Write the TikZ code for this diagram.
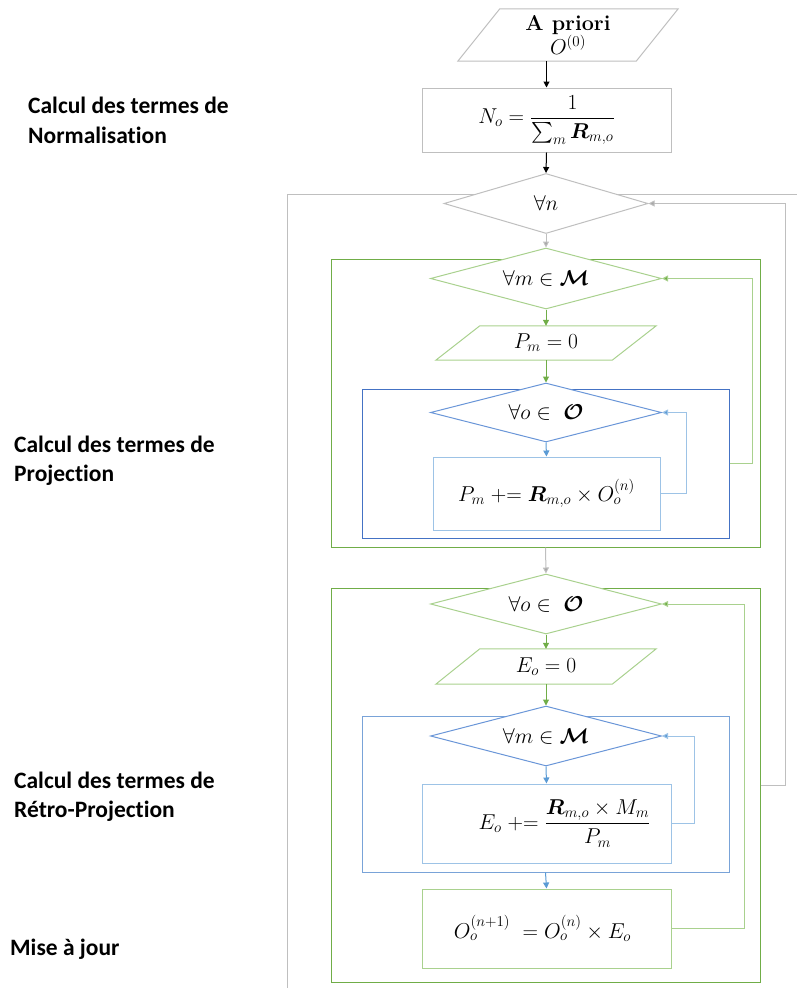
\RequirePackage{fix-cm}
\documentclass[tikz,border=0pt]{standalone}
\usepackage{fontspec}
\usepackage{amsmath,bm}
\newfontfamily\labelfont[Ligatures=NoCommon]{Carlito}
\usetikzlibrary{shapes.geometric,arrows.meta,calc}
\definecolor{gline}{HTML}{BFBFBF}
\definecolor{gtip}{HTML}{A5A5A5}
\definecolor{grn}{HTML}{70AD47}
\definecolor{grnl}{HTML}{A9D18E}
\definecolor{blu}{HTML}{4472C4}
\definecolor{blum}{HTML}{6A96D8}
\definecolor{blul}{HTML}{9DC3E6}
\definecolor{blutip}{HTML}{5B9BD5}
\begin{document}
\begin{tikzpicture}[x=1pt,y=-1pt,
  lbl/.style={font=\labelfont\bfseries\fontsize{23.5}{29.5}\selectfont, align=left, inner sep=0pt, anchor=north west},
  mtxt/.style={font=\fontsize{21.5}{26}\selectfont, inner sep=0pt},
  rbox/.style={mtxt, draw, line width=1pt, fill=white, rectangle},
  dbox/.style={mtxt, draw, line width=1pt, fill=white, diamond, aspect=4},
  pbox/.style={mtxt, rectangle, minimum width=220pt},
  cont/.style={draw, line width=1pt, rectangle, inner sep=0pt},
  tip/.style={-{Triangle[length=6pt,width=6pt]}},
  ln/.style={line width=1pt}
]
\useasboundingbox (0,0) rectangle (797,988);

% outer gray frame
\coordinate (gfa) at (287,988);
\coordinate (gfb) at (287,194);
\coordinate (gfc) at (797,194);
\draw[gline, ln] (gfa) -- (gfb) -- (gfc);

% labels
\node[lbl] (l1) at (28,97) {Calcul des termes de\\Normalisation};
\node[lbl] (l2) at (14,435.5) {Calcul des termes de\\Projection};
\node[lbl] (l3) at (14,771.5) {Calcul des termes de\\Rétro-Projection};
\node[lbl] (l4) at (10,938.5) {Mise à jour};

% containers
\node[cont, draw=grn, minimum width=429pt, minimum height=288pt] (G1) at (545.5,403) {};
\node[cont, draw=blu, minimum width=367pt, minimum height=149pt] (B1) at (545.5,463.5) {};
\node[cont, draw=grn, minimum width=429pt, minimum height=394pt] (G2) at (545.5,785) {};
\node[cont, draw=blul!60!blu, minimum width=367pt, minimum height=156pt] (B2) at (545.5,794) {};

% A priori
\node[pbox, minimum height=52pt, align=center] (ap) at (568,35) {\textbf{A priori}\\[-2pt]$O^{(0)}$};
\draw[gline, ln] ($(ap.north west)+(42,0)$) -- (ap.north east) -- ($(ap.south east)+(-42,0)$) -- (ap.south west) -- cycle;

% N box
\node[rbox, draw=gline, minimum width=249pt, minimum height=64pt] (N) at (546.5,120) {$N_o=\dfrac{1}{\sum_m \bm{R}_{m,o}}$};

% forall n
\node[dbox, draw=gline, minimum width=204pt, minimum height=60pt] (dn) at (546,203.5) {$\forall n$};

% projection
\node[dbox, draw=grnl, minimum width=231pt, minimum height=61pt] (dM1) at (546,278.5) {$\forall m\in\bm{\mathcal{M}}$};
\node[pbox, minimum height=34pt] (Pm0) at (546,343) {$P_m=0$};
\draw[grnl, ln] ($(Pm0.north west)+(44,0)$) -- (Pm0.north east) -- ($(Pm0.south east)+(-44,0)$) -- (Pm0.south west) -- cycle;
\node[dbox, draw=blum, minimum width=231pt, minimum height=59pt] (dO1) at (546,412.5) {$\forall o\in\ \bm{\mathcal{O}}$};
\node[rbox, draw=blul, minimum width=227pt, minimum height=73pt] (P) at (546.5,493.5) {$P_m \mathrel{{+}{=}} \bm{R}_{m,o}\times O_o^{(n)}$};

% retro-projection
\node[dbox, draw=grnl, minimum width=231pt, minimum height=60pt] (dO2) at (546,604) {$\forall o\in\ \bm{\mathcal{O}}$};
\node[pbox, minimum height=35pt] (Eo0) at (546,666.5) {$E_o=0$};
\draw[grnl, ln] ($(Eo0.north west)+(44,0)$) -- (Eo0.north east) -- ($(Eo0.south east)+(-44,0)$) -- (Eo0.south west) -- cycle;
\node[dbox, draw=blum, minimum width=231pt, minimum height=60pt] (dM2) at (546,736) {$\forall m\in\bm{\mathcal{M}}$};
\node[rbox, draw=blul, minimum width=249pt, minimum height=79pt] (E) at (546.5,823.5) {\hspace*{36pt}$E_o \mathrel{{+}{=}} \dfrac{\bm{R}_{m,o}\times M_m}{P_m}$};

% update
\node[rbox, draw=grnl, minimum width=249pt, minimum height=79pt] (U) at (546.5,928.5) {$O_o^{(n+1)}\ = O_o^{(n)}\times E_o$\hspace*{8pt}};

% main flow arrows
\draw[ln, tip] (N.north |- ap.south) -- (N.north);
\draw[ln, tip] (N.south) -- (dn.north);
\draw[ln, gline, -{Triangle[length=6pt,width=6pt,fill=gtip]}] (dn.south) -- (dM1.north);
\draw[ln, grn, tip] (dM1.south) -- (Pm0.north);
\draw[ln, grn, tip] (Pm0.south) -- (dO1.north);
\draw[ln, blutip, tip] (dO1.south) -- (P.north);
\draw[ln, gline, -{Triangle[length=6pt,width=6pt,fill=gtip]}] (G1.south) -- (dO2.north);
\draw[ln, grn, tip] (dO2.south) -- (Eo0.north);
\draw[ln, grn, tip] (Eo0.south) -- (dM2.north);
\draw[ln, blutip, tip] (dM2.south) -- (E.north);
\draw[ln, blutip, tip] (B2.south) -- (U.north);

% loops
\draw[ln, blul, -{Triangle[length=6pt,width=6pt,fill=blutip]}] (P.east) -- ++(26,0) |- (dO1.east);
\draw[ln, grnl, -{Triangle[length=6pt,width=6pt,fill=grn]}] (B1.east) -- ++(23,0) |- (dM1.east);
\draw[ln, blul, -{Triangle[length=6pt,width=6pt,fill=blutip]}] (E.east) -- ++(23,0) |- (dM2.east);
\draw[ln, grnl, -{Triangle[length=6pt,width=6pt,fill=grn]}] (U.east) -- ++(73,0) |- (dO2.east);
\draw[ln, gline, -{Triangle[length=6pt,width=6pt,fill=gtip]}] (G2.east) -- ++(25,0) |- (dn.east);
\end{tikzpicture}
\end{document}
